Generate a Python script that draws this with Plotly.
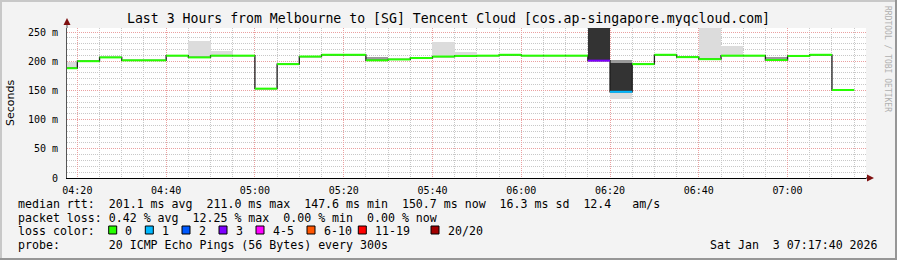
import plotly.graph_objects as go
from datetime import datetime, timedelta

# ---------------- data ----------------
DAY = "2026-01-03"
RANGE_START = "04:17:40"
RANGE_END = "07:17:40"

interval_start = ["04:15", "04:20", "04:25", "04:30", "04:35", "04:40", "04:45", "04:50",
                  "04:55", "05:00", "05:05", "05:10", "05:15", "05:20", "05:25", "05:30",
                  "05:35", "05:40", "05:45", "05:50", "05:55", "06:00", "06:05", "06:10",
                  "06:15", "06:20", "06:25", "06:30", "06:35", "06:40", "06:45", "06:50",
                  "06:55", "07:00", "07:05", "07:10"]

median_ms = [188, 200, 206.5, 201.5, 201.5, 209.5, 206.5, 209.5,
             209.5, 153, 195, 208, 211, 211, 201.5, 203,
             205.5, 208, 209, 209.5, 211, 209.5, 209.5, 209.5,
             201, 147.6, 195, 211, 207, 203.5, 209.5, 209.5,
             202, 209, 211, 150.7]

lost_pings = [0] * 24 + [3, 1] + [0] * 10

# smoke bands: (interval start, low ms, high ms)
smoke_light = [("04:15", 188, 199), ("04:45", 206.5, 234), ("04:50", 209.5, 217),
               ("05:40", 208, 233), ("05:45", 209, 215), ("06:20", 136, 147.6),
               ("06:40", 203.5, 265), ("06:45", 209.5, 226)]
smoke_mid = [("05:25", 201.5, 207), ("06:55", 202, 207), ("06:20", 197, 201.5)]
smoke_dark = [("06:15", 201, 265), ("06:20", 147.6, 197)]

y_tick_values = [0, 50, 100, 150, 200, 250]
y_tick_labels = ["0", "50 m", "100 m", "150 m", "200 m", "250 m"]

title_text = "Last 3 Hours from Melbourne to [SG] Tencent Cloud [cos.ap-singapore.myqcloud.com]"
stats_rtt = "median rtt:  201.1 ms avg  211.0 ms max  147.6 ms min  150.7 ms now  16.3 ms sd  12.4   am/s"
stats_loss = "packet loss: 0.42 % avg  12.25 % max  0.00 % min  0.00 % now"
probe_text = "probe:       20 ICMP Echo Pings (56 Bytes) every 300s"
stamp_text = "Sat Jan  3 07:17:40 2026"
loss_labels = ["0", "1", "2", "3", "4-5", "6-10", "11-19", "20/20"]
loss_upper = [0, 1, 2, 3, 5, 10, 19, 20]

# ---------------- styles ----------------
loss_colors = ["#26ff00", "#00b8ff", "#0059ff", "#7e00ff", "#ff00ff", "#ff5500", "#ff0000", "#a10000"]
MONO = "DejaVu Sans Mono"
STEP = timedelta(minutes=5)


def t(hm):
    fmt = "%Y-%m-%d %H:%M:%S" if hm.count(":") == 2 else "%Y-%m-%d %H:%M"
    return datetime.strptime(f"{DAY} {hm}", fmt)


def color_for_loss(n):
    for up, c in zip(loss_upper, loss_colors):
        if n <= up:
            return c
    return loss_colors[-1]


fig = go.Figure()

# smoke
for bands, col in ((smoke_light, "#dcdcdc"), (smoke_mid, "#9a9a9a"), (smoke_dark, "#333333")):
    fig.add_trace(go.Bar(
        x=[t(s) + STEP / 2 for s, lo, hi in bands],
        y=[hi - lo for s, lo, hi in bands],
        base=[lo for s, lo, hi in bands],
        width=[STEP.total_seconds() * 1000] * len(bands),
        marker=dict(color=col, line=dict(width=0)),
        hoverinfo="skip",
    ))

# dark step line (vertical joins)
starts = [t(s) for s in interval_start]
fig.add_trace(go.Scatter(
    x=starts + [starts[-1] + STEP], y=median_ms + [median_ms[-1]],
    mode="lines", line=dict(shape="hv", color="#1e1e1e", width=1.3), hoverinfo="skip",
))

# coloured median segments
segs = {}
for s, v, n in zip(starts, median_ms, lost_pings):
    c = color_for_loss(n)
    xs, ys = segs.setdefault(c, ([], []))
    xs += [s, s + STEP, None]
    ys += [v, v, None]
for c, (xs, ys) in segs.items():
    fig.add_trace(go.Scatter(x=xs, y=ys, mode="lines", line=dict(color=c, width=2), hoverinfo="skip"))

# ---------------- layout ----------------
L, R, T, B, W, H = 67, 31, 28, 82, 897, 260
PW, PH = W - L - R, H - T - B


def px(xp):
    return (xp - L) / PW


def py(yp):
    return (H - B - yp) / PH


GRID = "#c8c8c8"
MGRID = "#eaa0a0"

fig.update_layout(
    width=W, height=H, margin=dict(l=L, r=R, t=T, b=B),
    paper_bgcolor="#f3f3f3", plot_bgcolor="#ffffff",
    showlegend=False, barmode="overlay", bargap=0,
    title=dict(text=title_text, x=0.5, xref="container", xanchor="center",
               y=1 - 18 / H, yref="container", yanchor="middle",
               font=dict(family=MONO, size=13.2, color="#000000")),
    xaxis=dict(type="date", range=[t(RANGE_START), t(RANGE_END)],
               tickformat="%H:%M", dtick=20 * 60 * 1000, tick0=t("04:20"),
               showgrid=True, gridcolor=MGRID, griddash="1px,1px", gridwidth=1,
               minor=dict(dtick=5 * 60 * 1000, tick0=t("04:20"), showgrid=True,
                          gridcolor=GRID, griddash="1px,1px", gridwidth=1),
               showline=True, linecolor="#000000", linewidth=1, ticks="",
               ticklabelstandoff=3,
               tickfont=dict(family=MONO, size=10, color="#000000"), zeroline=False),
    yaxis=dict(range=[0, PH / 0.584], tickvals=y_tick_values, ticktext=y_tick_labels,
               showgrid=True, gridcolor=MGRID, griddash="1px,1px", gridwidth=1,
               minor=dict(dtick=10, showgrid=True, gridcolor=GRID, griddash="1px,1px", gridwidth=1),
               showline=True, linecolor="#555555", linewidth=1, ticks="",
               ticklabelstandoff=6, zeroline=False,
               tickfont=dict(family=MONO, size=10, color="#000000")),
)

shapes = []
# axis extensions and arrows
shapes.append(dict(type="line", xref="paper", yref="paper", x0=0, x1=0, y0=1, y1=py(22),
                   line=dict(color="#555555", width=1)))
shapes.append(dict(type="line", xref="paper", yref="paper", x0=1, x1=px(868), y0=0, y1=0,
                   line=dict(color="#000000", width=1)))
shapes.append(dict(type="path", xref="paper", yref="paper",
                   path=f"M {px(67)},{py(18)} L {px(63.5)},{py(25)} L {px(70.5)},{py(25)} Z",
                   fillcolor="#7f1010", line=dict(width=0)))
shapes.append(dict(type="path", xref="paper", yref="paper",
                   path=f"M {px(874)},{py(178)} L {px(867)},{py(174.5)} L {px(867)},{py(181.5)} Z",
                   fillcolor="#7f1010", line=dict(width=0)))
# frame
shapes.append(dict(type="line", xref="paper", yref="paper", x0=px(0), x1=px(W), y0=py(1), y1=py(1),
                   line=dict(color="#c8c8c8", width=2)))
shapes.append(dict(type="line", xref="paper", yref="paper", x0=px(1), x1=px(1), y0=py(0), y1=py(H),
                   line=dict(color="#c8c8c8", width=2)))
shapes.append(dict(type="line", xref="paper", yref="paper", x0=px(0), x1=px(W), y0=py(H - 1), y1=py(H - 1),
                   line=dict(color="#969696", width=2)))
shapes.append(dict(type="line", xref="paper", yref="paper", x0=px(W - 1), x1=px(W - 1), y0=py(0), y1=py(H),
                   line=dict(color="#969696", width=2)))

# loss colour legend boxes
box_x = [108.7, 145.3, 182, 219, 256, 307, 358.3, 431]
for bx, col in zip(box_x, loss_colors):
    shapes.append(dict(type="rect", xref="paper", yref="paper",
                       x0=px(bx), x1=px(bx + 8), y0=py(234), y1=py(226),
                       fillcolor=col, line=dict(color="#000000", width=1)))
fig.update_layout(shapes=shapes)


def nb(s):
    return s.replace(" ", "\u00a0")


ann = []
FS = 11.6
for txt, yy in ((stats_rtt, 204), (stats_loss, 218), ("loss color:", 231), (probe_text, 245)):
    ann.append(dict(text=nb(txt), xref="paper", yref="paper", x=px(16), y=py(yy),
                    xanchor="left", yanchor="middle", showarrow=False,
                    font=dict(family=MONO, size=FS, color="#000000")))
for bx, lab in zip(box_x, loss_labels):
    ann.append(dict(text=lab, xref="paper", yref="paper", x=px(bx + 14.5), y=py(231),
                    xanchor="left", yanchor="middle", showarrow=False,
                    font=dict(family=MONO, size=FS, color="#000000")))
ann.append(dict(text=nb(stamp_text), xref="paper", yref="paper", x=px(880), y=py(245),
                xanchor="right", yanchor="middle", showarrow=False,
                font=dict(family=MONO, size=FS, color="#000000")))
ann.append(dict(text="Seconds", xref="paper", yref="paper", x=px(10), y=py(103),
                xanchor="center", yanchor="middle", textangle=-90, showarrow=False,
                font=dict(family="DejaVu Sans", size=11, color="#000000")))
ann.append(dict(text=nb("RRDTOOL / TOBI OETIKER"), xref="paper", yref="paper", x=px(888), y=py(59),
                xanchor="center", yanchor="middle", textangle=90, showarrow=False,
                font=dict(family=MONO, size=8, color="#b0b0b0")))
fig.update_layout(annotations=ann)

fig.write_html("out.html")
